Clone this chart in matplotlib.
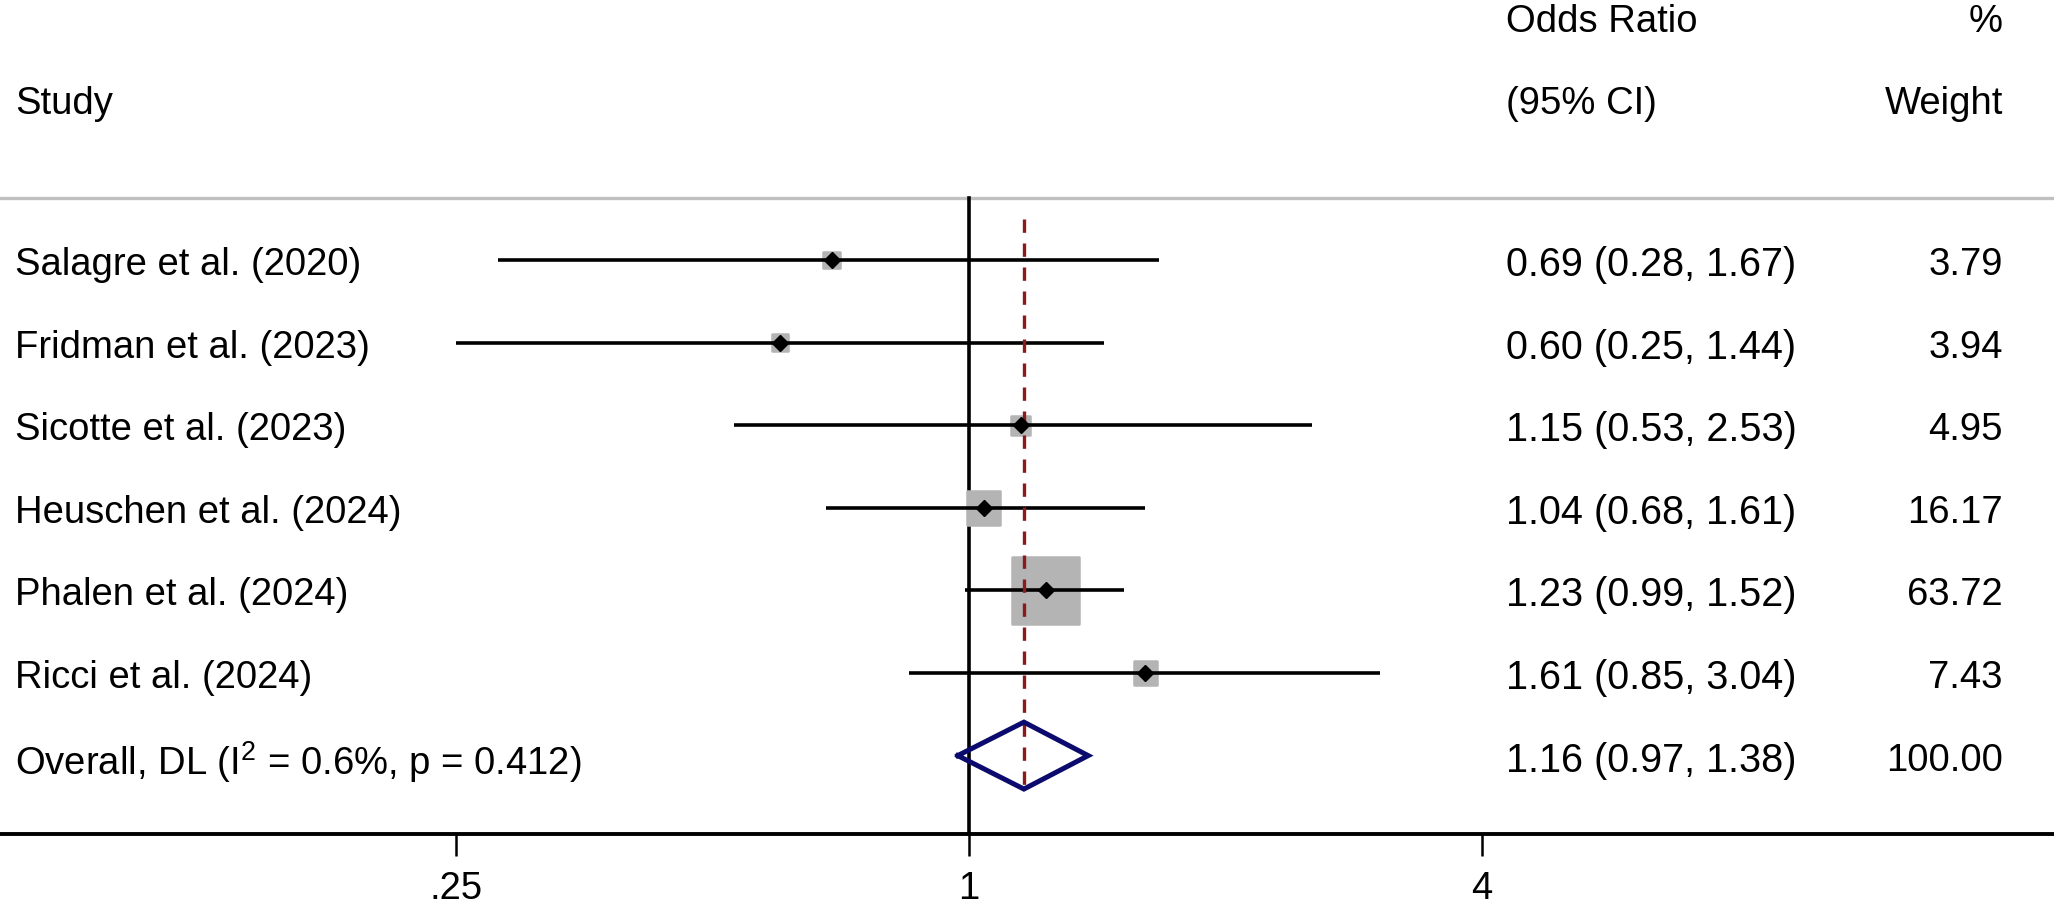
import matplotlib
matplotlib.use("Agg")
import matplotlib.pyplot as plt
import matplotlib.transforms as mtransforms
import numpy as np

# ---------------- data ----------------
studies = ["Salagre et al. (2020)", "Fridman et al. (2023)", "Sicotte et al. (2023)",
           "Heuschen et al. (2024)", "Phalen et al. (2024)", "Ricci et al. (2024)"]
odds = [0.69, 0.60, 1.15, 1.04, 1.23, 1.61]
ci_low = [0.28, 0.25, 0.53, 0.68, 0.99, 0.85]
ci_high = [1.67, 1.44, 2.53, 1.61, 1.52, 3.04]
weights = [3.79, 3.94, 4.95, 16.17, 63.72, 7.43]
ci_text = ["0.69 (0.28, 1.67)", "0.60 (0.25, 1.44)", "1.15 (0.53, 2.53)",
           "1.04 (0.68, 1.61)", "1.23 (0.99, 1.52)", "1.61 (0.85, 3.04)"]
weight_text = ["3.79", "3.94", "4.95", "16.17", "63.72", "7.43"]
overall_label = "Overall, DL (I$^2$ = 0.6%, p = 0.412)"
overall_or = 1.16
overall_low = 0.97
overall_high = 1.38
overall_ci_text = "1.16 (0.97, 1.38)"
overall_weight_text = "100.00"
tick_values = [0.25, 1, 4]
tick_labels = [".25", "1", "4"]

# ---------------- style ----------------
plt.rcParams['font.family'] = ['Liberation Sans', 'DejaVu Sans']
plt.rcParams['mathtext.default'] = 'regular'
FS = 27.5
FS_CI = 28.5

W, H = 2054, 904
fig = plt.figure(figsize=(W / 100, H / 100), dpi=100)
axis_px = 835
ax = fig.add_axes([0, (H - axis_px) / H, 1, axis_px / H])

# x mapping: 1 at px 969, 256.5 px per doubling
px_one, px_per = 969.0, 256.5
ax.set_xscale('log', base=2)
ax.set_xlim(2 ** (-px_one / px_per), 2 ** ((W - px_one) / px_per))

row0, row_h = 261.0, 82.6
ax.set_ylim((axis_px - row0) / row_h, -row0 / row_h)

def ypx(p):
    return (p - row0) / row_h

n = len(studies)
ys = np.arange(n)
y_over = n

# header line
ax.axhline(ypx(199), color='#c0c0c0', lw=2.4, zorder=1)
# null line
ax.plot([1, 1], [ypx(199), (axis_px - row0) / row_h], color='black', lw=2.6,
        zorder=2, clip_on=False)

# squares
ax.scatter(odds, ys, s=[37 * w for w in weights], marker='s', color='#b4b4b4',
           edgecolors='#b4b4b4', linewidths=1.8, zorder=3)
# CI lines
ax.hlines(ys, ci_low, ci_high, color='black', lw=2.6, zorder=4)
# point markers
ax.plot(odds, ys, 'D', color='black', ms=8.5, zorder=6)

# overall dashed line
ax.plot([overall_or, overall_or], [ypx(220), ypx(790)], color='#8b1a1a', lw=2.4,
        dashes=(4.0, 3.2), zorder=5)

# overall diamond
h = 0.405
dx = [overall_low, overall_or, overall_high, overall_or, overall_low]
dy = [y_over, y_over - h, y_over, y_over + h, y_over]
ax.plot(dx, dy, color='#0b0b6e', lw=3.6, zorder=7, solid_joinstyle='miter')

# axes styling
for s in ['top', 'left', 'right']:
    ax.spines[s].set_visible(False)
ax.spines['bottom'].set_linewidth(2.8)
ax.set_yticks([])
ax.set_xticks(tick_values)
ax.set_xticklabels(tick_labels)
ax.xaxis.set_minor_locator(matplotlib.ticker.NullLocator())
ax.tick_params(axis='x', length=16, width=1.8, pad=10, labelsize=FS)

# text columns
tr = mtransforms.blended_transform_factory(ax.transAxes, ax.transData)
x_study = 15 / W
x_ci = 1506 / W
x_w = 2003 / W
VA = 'center_baseline'

ax.text(x_study, ypx(100), "Study", transform=tr, ha='left', va=VA, fontsize=FS)
ax.text(x_ci, ypx(18), "Odds Ratio", transform=tr, ha='left', va=VA, fontsize=FS)
ax.text(x_ci, ypx(100), "(95% CI)", transform=tr, ha='left', va=VA, fontsize=FS)
ax.text(x_w, ypx(18), "%", transform=tr, ha='right', va=VA, fontsize=FS)
ax.text(x_w, ypx(100), "Weight", transform=tr, ha='right', va=VA, fontsize=FS)

for i in range(n):
    ax.text(x_study, ys[i], studies[i], transform=tr, ha='left', va=VA, fontsize=FS)
    ax.text(x_ci, ys[i], ci_text[i], transform=tr, ha='left', va=VA, fontsize=FS_CI)
    ax.text(x_w, ys[i], weight_text[i], transform=tr, ha='right', va=VA, fontsize=FS)

ax.text(x_study, y_over, overall_label, transform=tr, ha='left', va=VA, fontsize=FS)
ax.text(x_ci, y_over, overall_ci_text, transform=tr, ha='left', va=VA, fontsize=FS_CI)
ax.text(x_w, y_over, overall_weight_text, transform=tr, ha='right', va=VA, fontsize=FS)

fig.savefig("out.png", dpi=100, facecolor='white')
